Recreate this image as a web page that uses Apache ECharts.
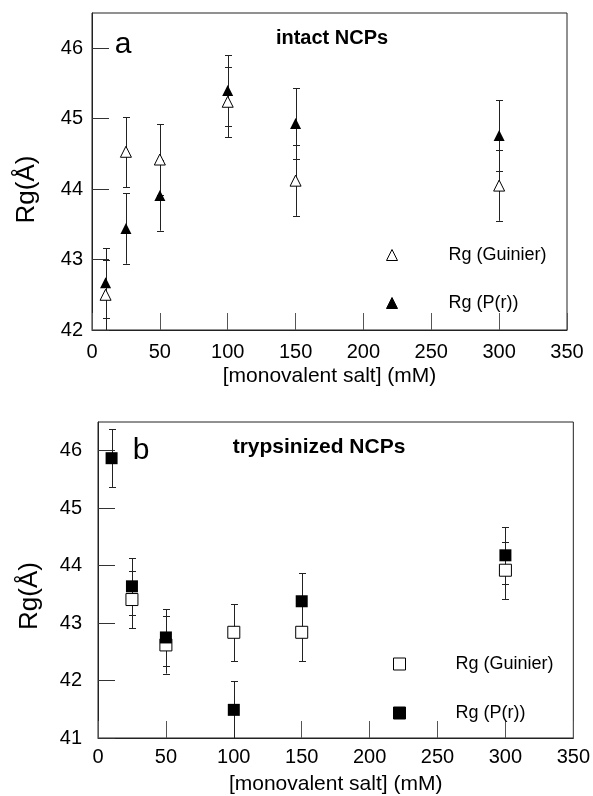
<!DOCTYPE html>
<html><head><meta charset="utf-8">
<script src="https://cdn.jsdelivr.net/npm/echarts/dist/echarts.min.js"></script>
<style>html,body{margin:0;padding:0;background:#fff}#c{width:593px;height:796px}</style>
</head><body><div id="c"></div>
<script>
// ---- data ----
const xTickValues = [0, 50, 100, 150, 200, 250, 300, 350];
const intactSalt = [10, 25, 50, 100, 150, 300];
const intactGuinier = [42.50, 44.53, 44.42, 45.24, 44.12, 44.05];
const intactGuinierErr = [0.5, 0.5, 0.5, 0.5, 0.5, 0.5];
const intactPr = [42.67, 43.44, 43.91, 45.40, 44.93, 44.76];
const intactPrErr = [0.5, 0.5, 0.5, 0.5, 0.5, 0.5];
const trypGuinierSalt = [25, 50, 100, 150, 300];
const trypGuinier = [43.41, 42.62, 42.84, 42.84, 43.92];
const trypGuinierErr = [0.5, 0.5, 0.5, 0.5, 0.5];
const trypPrSalt = [10, 25, 50, 100, 150, 300];
const trypPr = [45.87, 43.64, 42.75, 41.49, 43.38, 44.18];
const trypPrErr = [0.5, 0.5, 0.5, 0.5, 0.5, 0.5];

const FONT = '"Liberation Sans", Arial, Helvetica, sans-serif';
const INK = '#222';

function pairs(xs, ys) { return xs.map((x, i) => [x, ys[i]]); }

function errorBars(idx, xs, ys, errs) {
  return {
    type: 'custom', xAxisIndex: idx, yAxisIndex: idx, z: 1, silent: true, clip: true,
    data: xs.map((x, i) => [x, ys[i] - errs[i], ys[i] + errs[i]]),
    encode: { x: 0, y: [1, 2] },
    renderItem: function (params, api) {
      const lo = api.coord([api.value(0), api.value(1)]);
      const hi = api.coord([api.value(0), api.value(2)]);
      const cs = params.coordSys;
      const bottom = cs.y + cs.height;
      const x = Math.round(lo[0]) + 0.5;
      const yLo = Math.min(lo[1], bottom);
      const yHi = Math.round(hi[1]) + 0.5;
      const ch = 3.5;
      const st = { stroke: INK, lineWidth: 1 };
      const kids = [
        { type: 'line', shape: { x1: x, y1: yLo, x2: x, y2: yHi }, style: st },
        { type: 'line', shape: { x1: x - ch, y1: yHi, x2: x + ch, y2: yHi }, style: st }
      ];
      if (lo[1] <= bottom + 0.5) {
        const yl = Math.round(lo[1]) + 0.5;
        kids.push({ type: 'line', shape: { x1: x - ch, y1: yl, x2: x + ch, y2: yl }, style: st });
      }
      return { type: 'group', children: kids };
    }
  };
}

function xAxisCfg(idx, labelMargin) {
  return {
    type: 'value', gridIndex: idx, min: 0, max: 350, interval: 50,
    name: '[monovalent salt] (mM)', nameLocation: 'middle', nameGap: 36, nameMoveOverlap: false,
    nameTextStyle: { fontSize: 21, fontFamily: FONT, color: '#000' },
    axisLine: { show: true, onZero: false, lineStyle: { color: INK, width: 1 } },
    axisTick: { show: true, inside: true, length: 17, lineStyle: { color: '#555', width: 1 } },
    axisLabel: { fontSize: 20, fontFamily: FONT, color: '#000', margin: labelMargin,
      formatter: v => (xTickValues.indexOf(v) >= 0 ? String(v) : '') },
    splitLine: { show: false }
  };
}
function yAxisCfg(idx, min, labelMargin, nameGap, shift) {
  return {
    type: 'value', gridIndex: idx, min: min, max: 46.5, interval: 1,
    name: 'Rg(Å)', nameLocation: 'middle', nameGap: nameGap, nameMoveOverlap: false,
    nameTextStyle: { fontSize: 26, fontFamily: FONT, color: '#000', padding: [0, shift, 0, 0] },
    axisLine: { show: true, onZero: false, lineStyle: { color: INK, width: 1 } },
    axisTick: { show: true, inside: true, length: 17, lineStyle: { color: '#333', width: 1 } },
    axisLabel: { fontSize: 20, fontFamily: FONT, color: '#000', margin: labelMargin, showMaxLabel: false },
    splitLine: { show: false }
  };
}
function legendCfg(left, top, size, gap, pad, openIcon, fillIcon) {
  return {
    orient: 'vertical', left: left, top: top, padding: 0, itemGap: gap,
    itemWidth: size, itemHeight: size, selectedMode: false,
    itemStyle: { borderWidth: 1, borderColor: '#000' },
    textStyle: { fontSize: 18, fontFamily: FONT, color: '#000', lineHeight: 20, padding: [0, 0, 0, pad] },
    data: [{ name: 'Rg (Guinier)', icon: openIcon }, { name: 'Rg (P(r))', icon: fillIcon }]
  };
}

const chart = echarts.init(document.getElementById('c'), null, { renderer: 'canvas' });
chart.setOption({
  animation: false,
  backgroundColor: '#fff',
  grid: [
    { left: 92, top: 13, width: 475, height: 317, show: true, borderColor: INK, borderWidth: 1, backgroundColor: 'transparent', containLabel: false },
    { left: 98, top: 422, width: 477, height: 317, show: true, borderColor: INK, borderWidth: 1, backgroundColor: 'transparent', containLabel: false }
  ],
  xAxis: [xAxisCfg(0, 12), xAxisCfg(1, 9)],
  yAxis: [yAxisCfg(0, 42, 9, 52, 36), yAxisCfg(1, 41, 16, 55, 32)],
  legend: [
    legendCfg(386, 245, 11, 28, 46, 'triangle', 'triangle'),
    legendCfg(393, 654, 12, 29, 45, 'rect', 'rect')
  ],
  graphic: [
    { type: 'text', x: 123, y: 45, style: { text: 'a', font: '30px ' + FONT, fill: '#000', align: 'center', verticalAlign: 'middle' } },
    { type: 'text', x: 332, y: 38, style: { text: 'intact NCPs', font: 'bold 20px ' + FONT, fill: '#000', align: 'center', verticalAlign: 'middle' } },
    { type: 'text', x: 141, y: 451, style: { text: 'b', font: '30px ' + FONT, fill: '#000', align: 'center', verticalAlign: 'middle' } },
    { type: 'text', x: 319, y: 447, style: { text: 'trypsinized NCPs', font: 'bold 21px ' + FONT, fill: '#000', align: 'center', verticalAlign: 'middle' } }
  ],
  series: [
    errorBars(0, intactSalt, intactGuinier, intactGuinierErr),
    errorBars(0, intactSalt, intactPr, intactPrErr),
    errorBars(1, trypGuinierSalt, trypGuinier, trypGuinierErr),
    errorBars(1, trypPrSalt, trypPr, trypPrErr),
    { name: 'Rg (Guinier)', type: 'scatter', xAxisIndex: 0, yAxisIndex: 0, z: 3,
      symbol: 'triangle', symbolSize: 11, data: pairs(intactSalt, intactGuinier),
      itemStyle: { color: '#fff', borderColor: '#000', borderWidth: 1, opacity: 1 } },
    { name: 'Rg (P(r))', type: 'scatter', xAxisIndex: 0, yAxisIndex: 0, z: 4,
      symbol: 'triangle', symbolSize: 11, data: pairs(intactSalt, intactPr),
      itemStyle: { color: '#000', borderColor: '#000', borderWidth: 0, opacity: 1 } },
    { name: 'Rg (Guinier)', type: 'scatter', xAxisIndex: 1, yAxisIndex: 1, z: 3,
      symbol: 'rect', symbolSize: 12, data: pairs(trypGuinierSalt, trypGuinier),
      itemStyle: { color: '#fff', borderColor: '#000', borderWidth: 1, opacity: 1 } },
    { name: 'Rg (P(r))', type: 'scatter', xAxisIndex: 1, yAxisIndex: 1, z: 4,
      symbol: 'rect', symbolSize: 12, data: pairs(trypPrSalt, trypPr),
      itemStyle: { color: '#000', borderColor: '#000', borderWidth: 0, opacity: 1 } }
  ]
});
</script>
</body></html>
